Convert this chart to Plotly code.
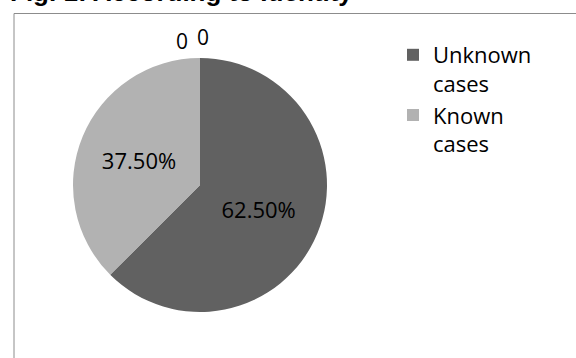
import plotly.graph_objects as go

# Data
categories = ["Unknown<br>cases", "Known<br>cases"]
values = [62.5, 37.5]
colors = ["#616161", "#b2b2b2"]
zero_labels = ["0", "0"]
title_text = "Fig. 1: According to Identity"

W, H = 576, 358

def px_x(x):
    return x / W

def px_y(y):
    return 1 - y / H

cx, cy, r = 200, 185, 127

fig = go.Figure()
fig.add_trace(go.Pie(
    labels=categories,
    values=values,
    sort=False,
    direction="clockwise",
    rotation=0,
    marker=dict(colors=colors, line=dict(width=0)),
    texttemplate="%{percent:.2%}",
    textposition="inside",
    insidetextorientation="horizontal",
    textfont=dict(family="Open Sans", size=22, color="#000000"),
    domain=dict(x=[px_x(cx - r), px_x(cx + r)], y=[px_y(cy + r), px_y(cy - r)]),
    hoverinfo="label+percent",
))

annotations = [
    dict(text="<b>" + title_text + "</b>", x=px_x(8), y=px_y(-8), xref="paper", yref="paper",
         xanchor="left", yanchor="middle", showarrow=False,
         font=dict(family="Liberation Sans", size=26, color="#000000")),
]
zero_pos = [(182, 41), (203, 37)]
for lab, (zx, zy) in zip(zero_labels, zero_pos):
    annotations.append(dict(text=lab, x=px_x(zx), y=px_y(zy), xref="paper", yref="paper",
                            xanchor="center", yanchor="middle", showarrow=False,
                            font=dict(family="Open Sans", size=21, color="#000000")))

shapes = [
    dict(type="line", xref="paper", yref="paper", x0=px_x(14), x1=px_x(14), y0=0, y1=px_y(13.5),
         line=dict(color="#8c8c8c", width=1)),
    dict(type="line", xref="paper", yref="paper", x0=px_x(14), x1=1, y0=px_y(13.5), y1=px_y(13.5),
         line=dict(color="#8c8c8c", width=1)),
]

fig.update_layout(
    width=W, height=H,
    margin=dict(l=0, r=0, t=0, b=0, autoexpand=False),
    paper_bgcolor="white",
    plot_bgcolor="white",
    showlegend=True,
    legend=dict(x=px_x(393), y=px_y(34), xanchor="left", yanchor="top",
                valign="top", font=dict(family="Open Sans", size=22, color="#000000"),
                bgcolor="rgba(0,0,0,0)", itemclick=False),
    annotations=annotations,
    shapes=shapes,
)

fig.write_html("out.html")
